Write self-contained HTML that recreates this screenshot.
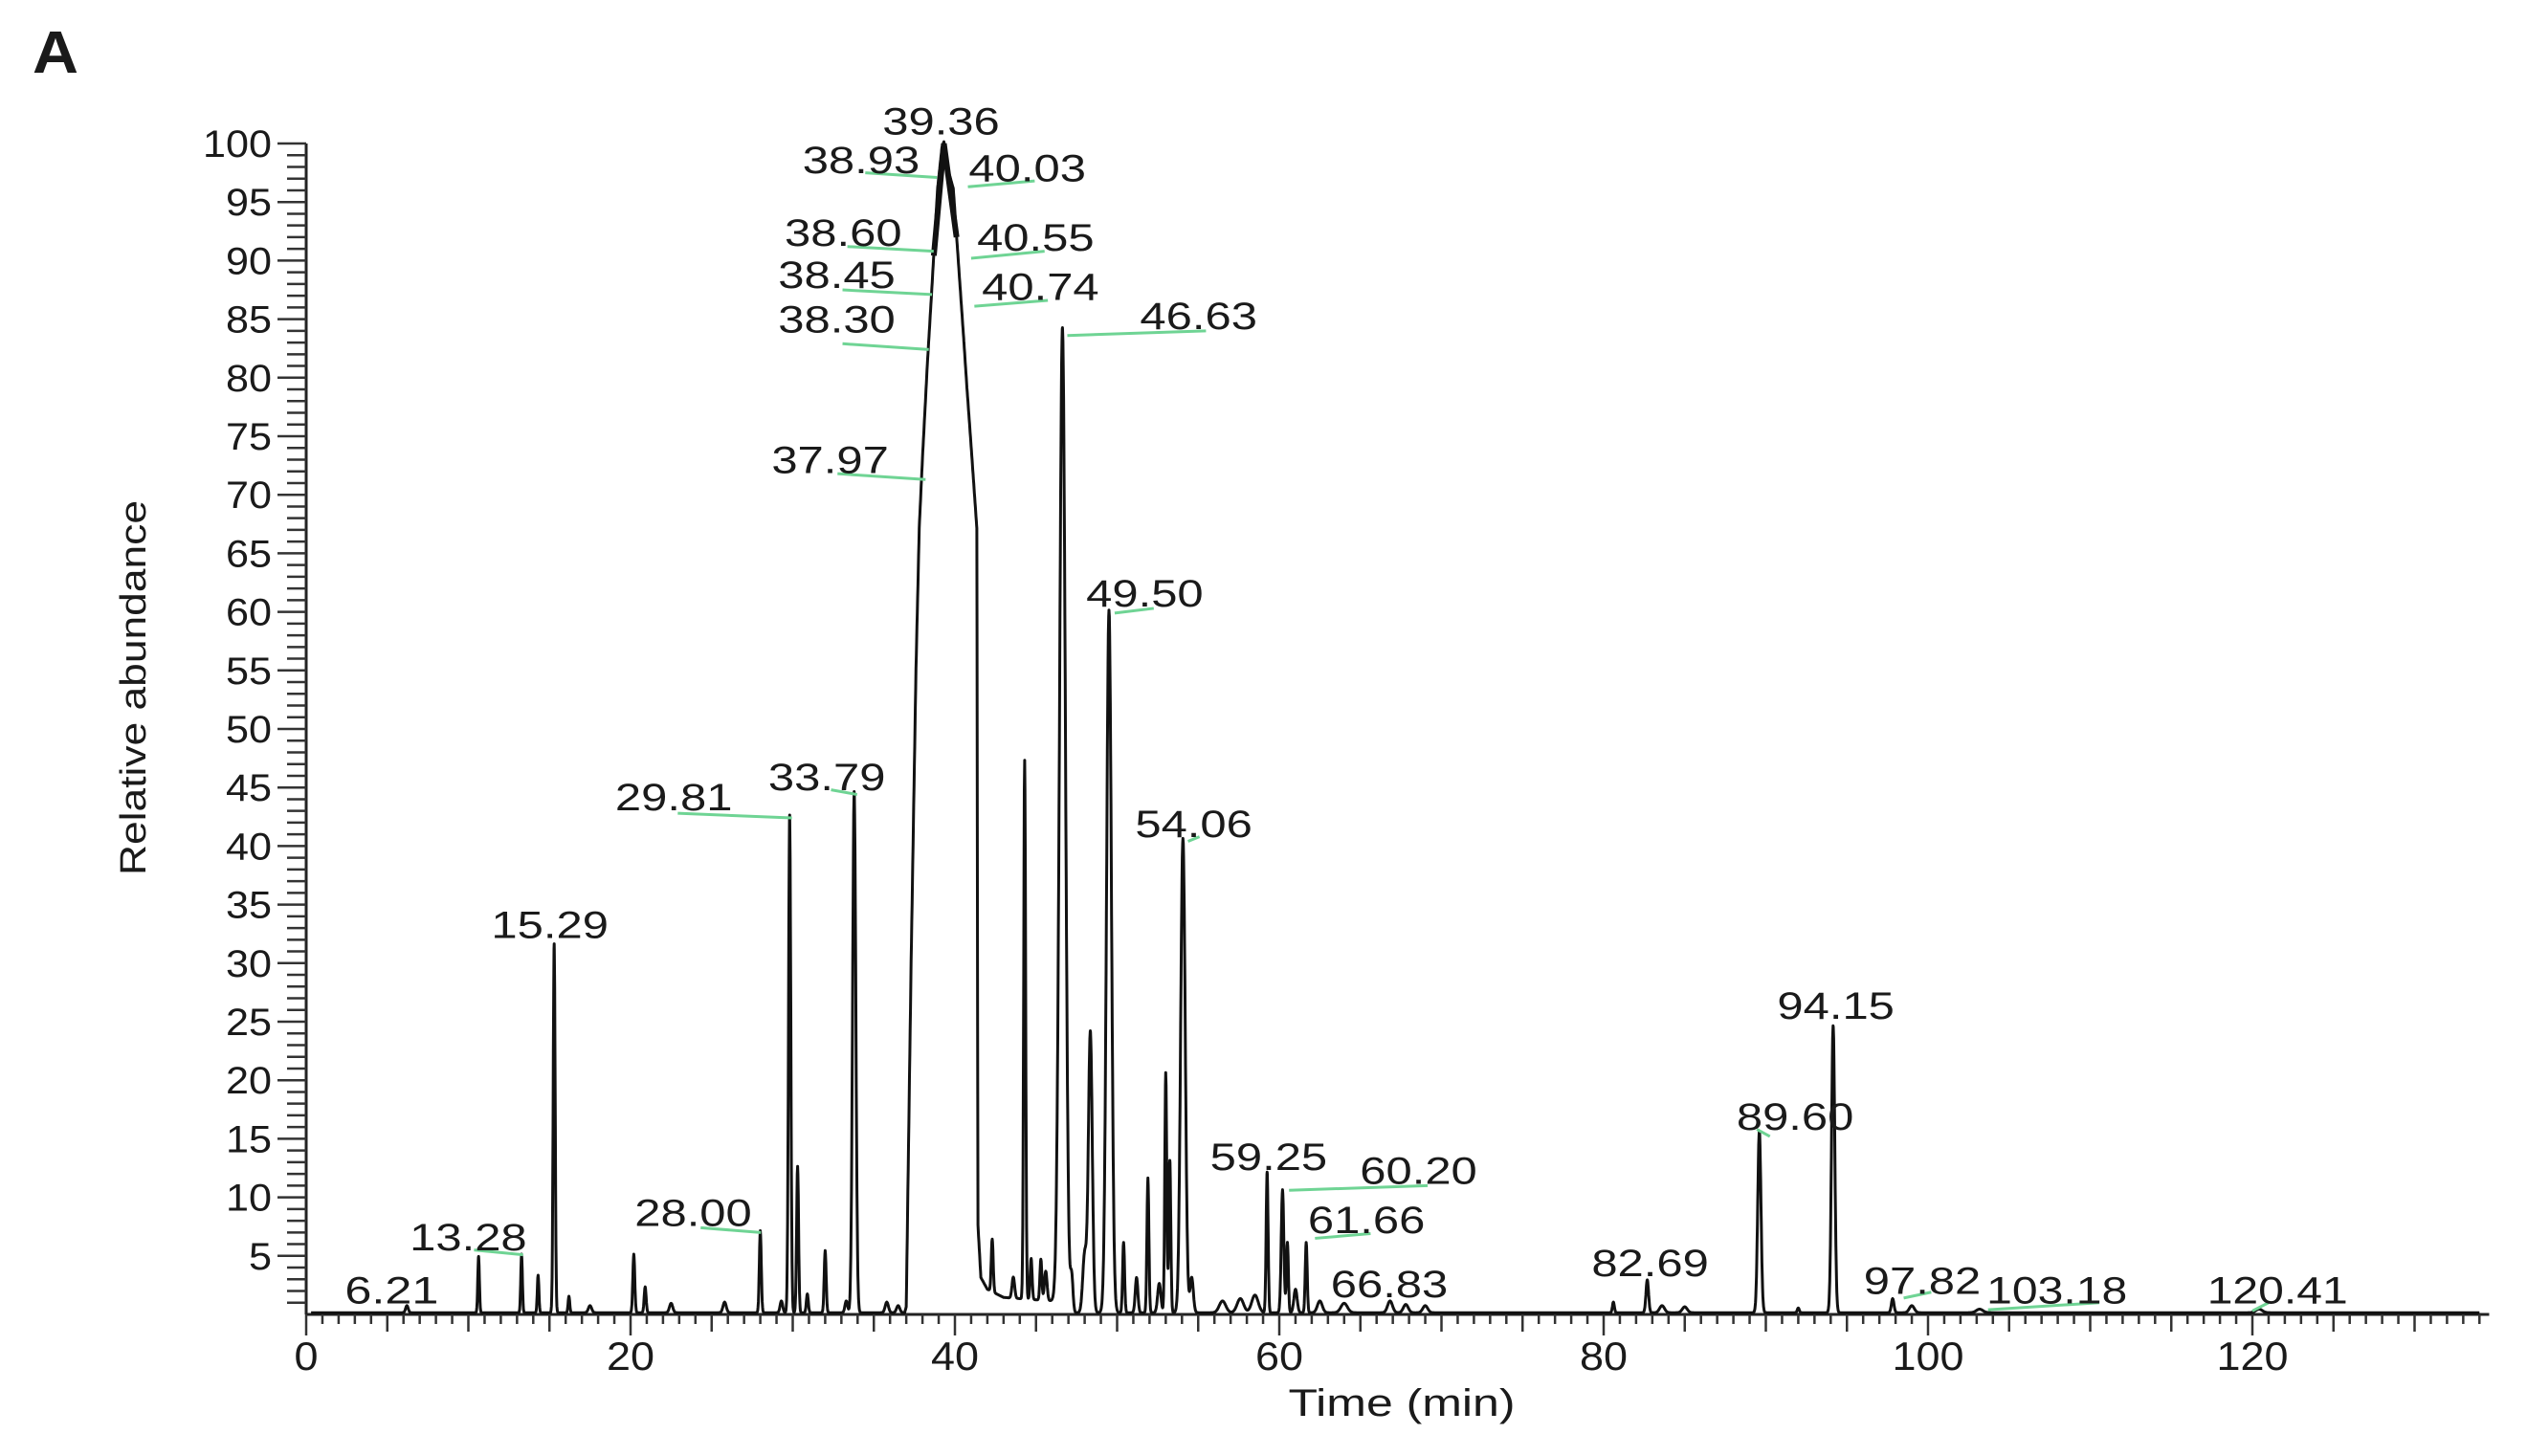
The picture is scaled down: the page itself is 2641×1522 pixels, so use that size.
<!DOCTYPE html>
<html><head><meta charset="utf-8"><style>
html,body{margin:0;padding:0;background:#fff;}
svg{display:block;}
text{font-family:"Liberation Sans",Arial,sans-serif;fill:#1a1a1a;}
</style></head><body>
<svg id="chart" width="2641" height="1522" viewBox="0 0 2641 1522" xmlns="http://www.w3.org/2000/svg">
<text x="34" y="76" font-size="62" font-weight="bold" textLength="48" lengthAdjust="spacingAndGlyphs">A</text>
<g id="axes"></g>
<g id="trace"></g>
<g id="labels"></g>
<text x="152" y="719" font-size="38" text-anchor="middle" transform="rotate(-90 152 719)" textLength="392" lengthAdjust="spacingAndGlyphs">Relative abundance</text>
<text x="1465" y="1480" font-size="40" text-anchor="middle" textLength="237" lengthAdjust="spacingAndGlyphs">Time (min)</text>
</svg>
<script>
// ---- data ----
const xTicks = [0, 20, 40, 60, 80, 100, 120];
const yTicks = [5,10,15,20,25,30,35,40,45,50,55,60,65,70,75,80,85,90,95,100];
const mainT = [36.9, 37.0, 37.3, 37.6, 37.8, 38.0, 38.3, 38.6, 38.93, 39.2, 39.32, 39.5, 39.9, 40.3, 40.55, 40.74, 41.0, 41.35, 41.42, 41.6, 42.0, 43.0, 46.0, 47.0];
const mainV = [0, 0.5, 30, 55, 67, 73, 81, 88, 96, 99.5, 100, 98, 96, 88, 83, 79, 74, 67, 7.5, 3, 2, 1.3, 1, 0.4];
const peakT = [6.21, 10.63, 13.28, 14.3, 15.29, 16.2, 17.5, 20.2, 20.9, 22.5, 25.8, 28.0, 29.3, 29.81, 30.3, 30.9, 32.0, 33.3, 33.79, 35.8, 36.5, 42.3, 43.6, 44.3, 44.7, 45.3, 45.6, 46.63, 47.2, 48.0, 48.35, 49.5, 50.4, 51.2, 51.9, 52.6, 53.0, 53.25, 54.06, 54.6, 56.5, 57.6, 58.5, 59.25, 60.2, 60.5, 61.0, 61.66, 62.5, 64.0, 66.83, 67.8, 69.0, 80.6, 82.69, 83.6, 85.0, 89.6, 92.0, 94.15, 97.82, 99.0, 103.18, 120.41];
const peakV = [0.6, 4.8, 5.0, 3.2, 31.5, 1.4, 0.6, 5.0, 2.2, 0.8, 0.9, 7.0, 1.0, 42.5, 12.5, 1.6, 5.3, 1.0, 44.5, 0.9, 0.6, 4.5, 1.8, 46.0, 3.5, 3.5, 2.5, 83.5, 3.0, 5.0, 24.0, 60.0, 6.0, 3.0, 11.5, 2.5, 20.5, 13.0, 40.5, 3.0, 1.0, 1.2, 1.5, 12.0, 10.5, 6.0, 2.0, 6.0, 1.0, 0.8, 1.0, 0.7, 0.6, 0.9, 2.8, 0.6, 0.5, 15.5, 0.4, 24.5, 1.2, 0.6, 0.3, 0.3];
const peakW = [0.08, 0.05, 0.05, 0.05, 0.06, 0.05, 0.1, 0.06, 0.06, 0.1, 0.1, 0.06, 0.08, 0.07, 0.06, 0.06, 0.06, 0.08, 0.1, 0.1, 0.1, 0.06, 0.08, 0.06, 0.06, 0.06, 0.08, 0.18, 0.08, 0.12, 0.12, 0.15, 0.06, 0.08, 0.06, 0.1, 0.06, 0.06, 0.14, 0.1, 0.2, 0.2, 0.2, 0.06, 0.08, 0.06, 0.1, 0.06, 0.15, 0.2, 0.15, 0.15, 0.15, 0.06, 0.08, 0.15, 0.15, 0.1, 0.06, 0.1, 0.08, 0.15, 0.2, 0.2];
const labelText = ["39.36","38.93","40.03","38.60","40.55","38.45","40.74","38.30","37.97","46.63","49.50","54.06","29.81","33.79","15.29","13.28","28.00","6.21","59.25","60.20","61.66","66.83","82.69","89.60","94.15","97.82","103.18","120.41"];
const labelT = [39.50,34.57,44.82,33.47,45.33,33.07,45.63,33.07,32.66,55.38,52.06,55.08,23.02,32.46,15.38,10.35,24.22,5.63,59.70,68.94,65.73,67.14,83.22,92.16,94.67,100.0,108.3,121.9];
const labelV = [101.9,98.6,97.9,92.4,92.0,88.8,87.8,85.0,73.0,85.3,61.6,41.9,44.2,45.9,33.3,6.6,8.7,2.1,13.5,12.3,8.1,2.6,4.4,16.9,26.4,2.9,2.1,2.1];
const leadT1 = [34.47,40.8,33.37,41.0,33.07,41.2,33.07,32.76,46.93,49.85,54.37,22.91,32.36,10.35,24.32,60.6,62.2,89.45,98.5,103.7,120.0];
const leadV1 = [97.5,96.3,91.2,90.2,87.5,86.1,82.9,71.8,83.6,59.9,40.4,42.8,44.8,5.5,7.4,10.6,6.5,15.8,1.4,0.4,0.3];
const leadT2 = [38.89,44.92,38.69,45.53,38.59,45.73,38.39,38.19,55.48,52.26,55.08,29.95,33.97,13.37,28.04,69.15,65.63,90.25,100.2,110.55,121.0];
const leadV2 = [97.1,96.8,90.8,90.8,87.1,86.6,82.4,71.3,84.0,60.3,40.8,42.4,44.4,5.1,7.0,11.0,6.9,15.2,1.9,1.0,1.0];

// ---- scales ----
const X0 = 320, PXMIN = 16.95, Y0 = 1374, PXUNIT = 12.24, XMAX = 134.6;
const sx = t => X0 + t * PXMIN;
const sy = v => Y0 - v * PXUNIT;
const NS = "http://www.w3.org/2000/svg";
function mk(tag, attrs, parent) {
  const e = document.createElementNS(NS, tag);
  for (const k in attrs) e.setAttribute(k, attrs[k]);
  parent.appendChild(e);
  return e;
}
const axes = document.getElementById('axes');
const trace = document.getElementById('trace');
const labels = document.getElementById('labels');

let yl = mk('line', {x1: X0, y1: sy(100), x2: X0, y2: Y0, stroke: '#222', 'stroke-width': 3}, axes);


let xl = mk('line', {x1: X0, y1: Y0, x2: sx(XMAX), y2: Y0, stroke: '#222', 'stroke-width': 3}, axes);



for (let v = 1; v <= 100; v++) {
  const len = (v % 5 === 0) ? 30 : 20;
  const tk = mk('line', {x1: X0 - len, y1: sy(v), x2: X0, y2: sy(v), stroke: '#333', 'stroke-width': 2.5}, axes);
  
  
}
yTicks.forEach(v => {
  const s = String(v);
  const t = mk('text', {x: 284, y: sy(v) + 14, 'font-size': 40, 'text-anchor': 'end', textLength: s.length * 24, lengthAdjust: 'spacingAndGlyphs'}, axes);
  t.textContent = s;
  
  
});
for (let m = 0; m <= 134; m++) {
  const len = (m % 20 === 0) ? 22 : (m % 5 === 0 ? 18 : 10);
  const tk = mk('line', {x1: sx(m), y1: Y0, x2: sx(m), y2: Y0 + len, stroke: '#333', 'stroke-width': 2.5}, axes);
  
  
}
xTicks.forEach(m => {
  const s = String(m);
  const t = mk('text', {x: sx(m), y: 1432, 'font-size': 42, 'text-anchor': 'middle', textLength: s.length * 25, lengthAdjust: 'spacingAndGlyphs'}, axes);
  t.textContent = s;
  
  
});

function mainAt(t) {
  if (t <= mainT[0] || t >= mainT[mainT.length - 1]) return 0;
  for (let i = 1; i < mainT.length; i++) {
    if (t <= mainT[i]) {
      const f = (t - mainT[i - 1]) / (mainT[i] - mainT[i - 1]);
      return mainV[i - 1] + f * (mainV[i] - mainV[i - 1]);
    }
  }
  return 0;
}
function valAt(t) {
  let v = 0.15 + mainAt(t);
  for (let i = 0; i < peakT.length; i++) {
    const d = (t - peakT[i]) / peakW[i];
    if (Math.abs(d) < 6) v += peakV[i] * Math.exp(-0.5 * d * d);
  }
  return v;
}
let ts = [];
for (let t = 0.3; t <= 134; t += 0.02) ts.push(+t.toFixed(3));
ts = ts.concat(peakT, mainT.filter(t => t > 0.3)).sort((a, b) => a - b);
let d = '';
ts.forEach((t, i) => {
  d += (i ? 'L' : 'M') + sx(t).toFixed(1) + ' ' + sy(valAt(t)).toFixed(1);
});
const path = mk('path', {d: d, fill: 'none', stroke: '#111', 'stroke-width': 3, 'stroke-linejoin': 'round'}, trace);


const mainPath = mk('path', {d: 'M' + sx(38.7) + ' ' + sy(mainAt(38.7)) + 'L' + sx(39.32) + ' ' + sy(100) + 'L' + sx(40.1) + ' ' + sy(mainAt(40.1)), fill: 'none', stroke: '#111', 'stroke-width': 6}, trace);



for (let i = 0; i < leadT1.length; i++) {
  const l = mk('line', {x1: sx(leadT1[i]), y1: sy(leadV1[i]), x2: sx(leadT2[i]), y2: sy(leadV2[i]), stroke: '#6fd494', 'stroke-width': 3}, labels);
  
  
}
labelText.forEach((s, i) => {
  const t = mk('text', {x: sx(labelT[i]) - 6, y: sy(labelV[i]) + 14, 'font-size': 40, 'text-anchor': 'middle', textLength: s.length * 24.5, lengthAdjust: 'spacingAndGlyphs'}, labels);
  t.textContent = s;
  
  
});
</script>
</body></html>
